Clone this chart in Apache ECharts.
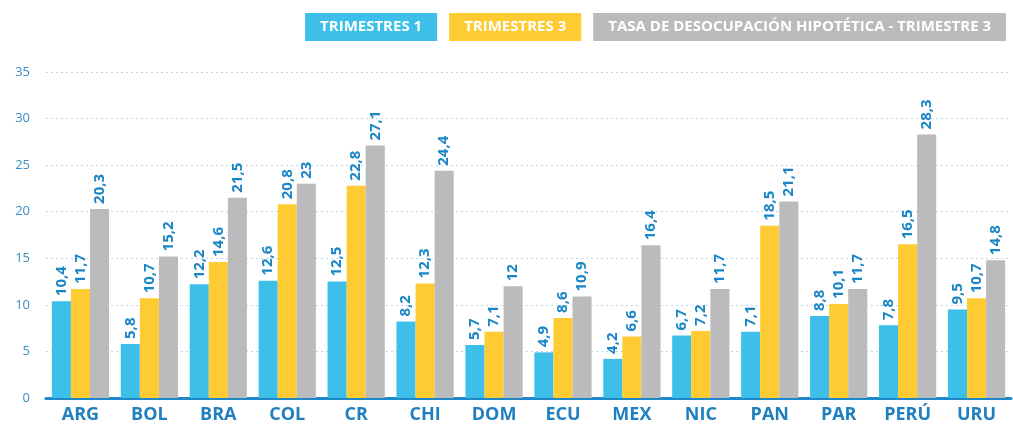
<!DOCTYPE html>
<html>
<head>
<meta charset="utf-8">
<script src="https://cdn.jsdelivr.net/npm/echarts@6/dist/echarts.min.js"></script>
<style>
  html, body { margin: 0; padding: 0; background: #fff; }
  #chart { width: 1013px; height: 426px; }
</style>
</head>
<body>
<div id="chart"></div>
<script>
const categories = ["ARG", "BOL", "BRA", "COL", "CR", "CHI", "DOM", "ECU", "MEX", "NIC", "PAN", "PAR", "PERÚ", "URU"];
const trimestre1 = [10.4, 5.8, 12.2, 12.6, 12.5, 8.2, 5.7, 4.9, 4.2, 6.7, 7.1, 8.8, 7.8, 9.5];
const trimestre3 = [11.7, 10.7, 14.6, 20.8, 22.8, 12.3, 7.1, 8.6, 6.6, 7.2, 18.5, 10.1, 16.5, 10.7];
const hipotetica = [20.3, 15.2, 21.5, 23, 27.1, 24.4, 12, 10.9, 16.4, 11.7, 21.1, 11.7, 28.3, 14.8];
const seriesNames = ["TRIMESTRES 1", "TRIMESTRES 3", "TASA DE DESOCUPACIÓN HIPOTÉTICA - TRIMESTRE 3"];
const colors = ["#3DBFEA", "#FFCB33", "#BBBBBD"];

const chart = echarts.init(document.getElementById("chart"));

const label = {
  show: true,
  position: "top",
  rotate: 90,
  align: "left",
  verticalAlign: "middle",
  distance: 5,
  color: "#1A86C6",
  fontFamily: "Open Sans",
  fontWeight: "bold",
  fontSize: 15,
  formatter: (p) => String(p.value).replace(".", ","),
};

const makeSeries = (name, data, color) => ({
  name: name,
  type: "bar",
  data: data,
  barGap: "0%",
  barCategoryGap: "17%",
  itemStyle: { color: color },
  label: label,
});

chart.setOption({
  animation: false,
  textStyle: { fontFamily: "Open Sans" },
  legend: {
    top: 8,
    right: 2,
    icon: "rect",
    itemWidth: 0,
    itemHeight: 0,
    itemGap: 7,
    selectedMode: false,
    data: seriesNames.map((n, i) => ({
      name: n,
      textStyle: {
        color: "#fff",
        fontWeight: "bold",
        fontSize: 15,
        fontFamily: "Open Sans",
        backgroundColor: colors[i],
        padding: [7, 15, 6, 15],
      },
    })),
  },
  grid: { left: 46, right: 2, top: 72, bottom: 28 },
  xAxis: {
    type: "category",
    data: categories,
    axisLine: { lineStyle: { color: "#1E88C8", width: 3 } },
    axisTick: { show: false },
    axisLabel: {
      color: "#1F7FBF",
      fontWeight: "bold",
      fontSize: 18,
      margin: 8,
    },
  },
  yAxis: {
    type: "value",
    min: 0,
    max: 35,
    interval: 5,
    axisLine: { show: false },
    axisTick: { show: false },
    axisLabel: { color: "#3A8EC2", fontSize: 13, margin: 16 },
    splitLine: { lineStyle: { color: "#B9DAEE", type: [2, 3], width: 1 } },
  },
  series: [
    makeSeries(seriesNames[0], trimestre1, colors[0]),
    makeSeries(seriesNames[1], trimestre3, colors[1]),
    makeSeries(seriesNames[2], hipotetica, colors[2]),
  ],
});
</script>
</body>
</html>
